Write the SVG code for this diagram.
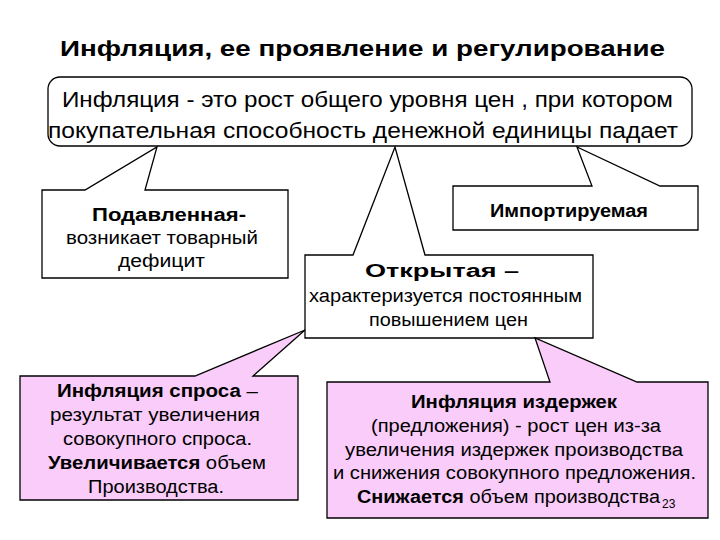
<svg xmlns="http://www.w3.org/2000/svg" width="720" height="540" viewBox="0 0 720 540">
<style>
text{font-family:"Liberation Sans",Arial,sans-serif;fill:#000}
.w{fill:#fff;stroke:#000;stroke-width:1.3}
.p{fill:#f9ccf9;stroke:#000;stroke-width:1.3}
.t{font-size:18px}
.b{font-weight:bold}
</style>
<rect width="720" height="540" fill="#fff"/>
<text x="60" y="56" class="b" font-size="22" textLength="605" lengthAdjust="spacingAndGlyphs">Инфляция, ее проявление и регулирование</text>
<g id="def">
<rect x="48" y="77" width="644" height="69" rx="12" class="w"/>
<text x="62" y="107" font-size="22" textLength="611" lengthAdjust="spacingAndGlyphs">Инфляция - это рост общего уровня цен , при котором</text>
<text x="48" y="138" font-size="22" textLength="630" lengthAdjust="spacingAndGlyphs">покупательная способность денежной единицы падает</text>
</g>
<g id="connectors"></g>
<g id="suppressed">
<path d="M42 190H85L157 147L145 190H288V278H42Z" class="w"/>
<text x="92" y="221" class="t b" textLength="154" lengthAdjust="spacingAndGlyphs">Подавленная-</text>
<text x="66" y="244" class="t" textLength="192" lengthAdjust="spacingAndGlyphs">возникает товарный</text>
<text x="118" y="267" class="t" textLength="87" lengthAdjust="spacingAndGlyphs">дефицит</text>
</g>
<g id="imported">
<path d="M453 186H592L577 147L660 186H698V230H453Z" class="w"/>
<text x="490" y="217" class="t b" textLength="158" lengthAdjust="spacingAndGlyphs">Импортируемая</text>
</g>
<g id="open">
<path d="M305 255H353L395 147L425 255H593V338H305Z" class="w"/>
<text x="365" y="277" class="t b" textLength="154" lengthAdjust="spacingAndGlyphs">Открытая –</text>
<text x="309" y="302" class="t" textLength="273" lengthAdjust="spacingAndGlyphs">характеризуется постоянным</text>
<text x="369" y="326" class="t" textLength="159" lengthAdjust="spacingAndGlyphs">повышением цен</text>
</g>
<g id="demand">
<path d="M20 376H195L305 330L253 376H298V500H20Z" class="p"/>
<text x="57" y="397" class="t" textLength="201" lengthAdjust="spacingAndGlyphs"><tspan class="b">Инфляция спроса</tspan> –</text>
<text x="50" y="421" class="t" textLength="210" lengthAdjust="spacingAndGlyphs">результат увеличения</text>
<text x="63" y="445" class="t" textLength="189" lengthAdjust="spacingAndGlyphs">совокупного спроса.</text>
<text x="48" y="469" class="t" textLength="218" lengthAdjust="spacingAndGlyphs"><tspan class="b">Увеличивается</tspan> объем</text>
<text x="88" y="493" class="t" textLength="136" lengthAdjust="spacingAndGlyphs">Производства.</text>
</g>
<g id="cost">
<path d="M327 382H550L535 338L637 382H708V518H327Z" class="p"/>
<text x="411" y="408" class="t b" textLength="206" lengthAdjust="spacingAndGlyphs">Инфляция издержек</text>
<text x="371" y="432" class="t" textLength="290" lengthAdjust="spacingAndGlyphs">(предложения) - рост цен из-за</text>
<text x="345" y="456" class="t" textLength="338" lengthAdjust="spacingAndGlyphs">увеличения издержек производства</text>
<text x="333" y="479" class="t" textLength="363" lengthAdjust="spacingAndGlyphs">и снижения совокупного предложения.</text>
<text x="357" y="503" class="t" textLength="303" lengthAdjust="spacingAndGlyphs"><tspan class="b">Снижается</tspan> объем производства</text>
<text x="662" y="508" font-size="12">23</text>
</g>
</svg>
